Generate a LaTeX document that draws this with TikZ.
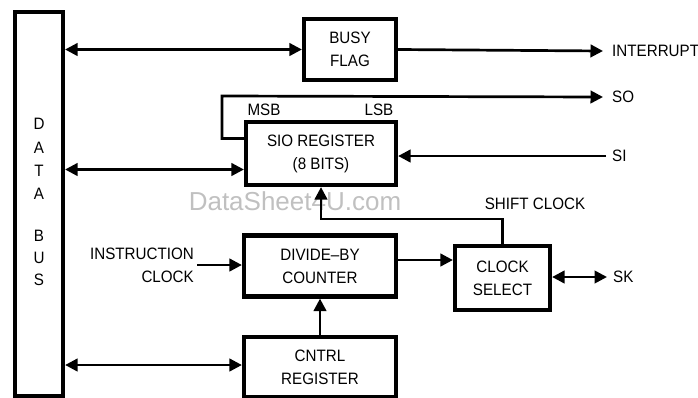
\documentclass[tikz,border=0pt]{standalone}
\usepackage{fontspec}
\setmainfont{Liberation Sans}[FakeStretch=0.92]
\newfontfamily\wmfont{Liberation Sans}
\usetikzlibrary{arrows.meta}
\definecolor{wmgray}{RGB}{192,192,192}
\begin{document}
\begin{tikzpicture}[x=1pt,y=-1pt,
  box/.style={draw, line width=4.2pt, inner sep=0pt, align=center, font=\fontsize{16.5}{23}\selectfont},
  lbl/.style={inner sep=0pt, font=\fontsize{16.5}{23}\selectfont},
  arr/.style={line width=2.7pt, -{Triangle[length=12.5pt,width=12.5pt]}},
  dbl/.style={line width=2.7pt, {Triangle[length=12.5pt,width=12.5pt]}-{Triangle[length=12.5pt,width=12.5pt]}}]
\useasboundingbox (0,0) rectangle (698,397);
% watermark
\node[inner sep=0pt, text=wmgray, font=\wmfont\fontsize{26}{30}\selectfont] (wm) at (295,201) {DataSheet4U.com};
% boxes
\node[box, minimum width=48pt, minimum height=384pt] (bus) at (39,204) {};
\node[box, minimum width=92pt, minimum height=61pt] (busy) at (350,49.5) {BUSY\\FLAG};
\node[box, minimum width=150pt, minimum height=63pt] (sio) at (321,153.5) {SIO REGISTER\\(8 BITS)};
\node[box, minimum width=152pt, minimum height=61pt] (div) at (320,266) {DIVIDE–BY\\COUNTER};
\node[box, minimum width=95pt, minimum height=64pt] (csel) at (502.5,278) {CLOCK\\SELECT};
\node[box, minimum width=152pt, minimum height=60pt] (cntrl) at (320,367) {CNTRL\\REGISTER};
% DATA BUS letters
\node[lbl] (l1) at (39,124) {D};
\node[lbl] (l2) at (39,148) {A};
\node[lbl] (l3) at (39,171) {T};
\node[lbl] (l4) at (39,194) {A};
\node[lbl] (l5) at (39,236) {B};
\node[lbl] (l6) at (39,258) {U};
\node[lbl] (l7) at (39,280) {S};
% labels
\node[lbl, anchor=west] (int) at (612,51) {INTERRUPT};
\node[lbl, anchor=west] (so) at (612,97) {SO};
\node[lbl, anchor=west] (si) at (612,156) {SI};
\node[lbl, anchor=west] (sk) at (613,277) {SK};
\node[lbl] (msb) at (264,110) {MSB};
\node[lbl] (lsb) at (379,110) {LSB};
\node[lbl] (sclab) at (535,204) {SHIFT CLOCK};
\node[lbl, align=right, anchor=east] (ic) at (194,265) {INSTRUCTION\\CLOCK};
% connectors
\draw[dbl] (bus.east |- busy.west) -- (busy.west);
\draw[arr] (busy.east) -- ([xshift=-9pt]int.west);
\coordinate (loop) at (222,96);
\draw[arr] ([yshift=15pt]sio.west) -| (loop) -- ([xshift=-9pt]so.west);
\coordinate (sioin) at ([yshift=-16pt]sio.west);
\draw[dbl] (bus.east |- sioin) -- (sioin);
\draw[arr] ([xshift=-6pt]si.west) -- (sio.east |- si.west);
\draw[arr, line join=miter] (csel.north) -- ++(0,-25) -| (sio.south);
\draw[arr] ([xshift=3pt]ic.east) -- (div.west |- ic.east);
\coordinate (dc) at ([yshift=6pt]div.east);
\draw[arr] (dc) -- (csel.west |- dc);
\draw[dbl] (csel.east |- sk.west) -- ([xshift=-6pt]sk.west);
\draw[arr] (cntrl.north) -- (div.south);
\coordinate (cin) at ([yshift=2pt]cntrl.west);
\draw[dbl] (bus.east |- cin) -- (cin);
\end{tikzpicture}
\end{document}
